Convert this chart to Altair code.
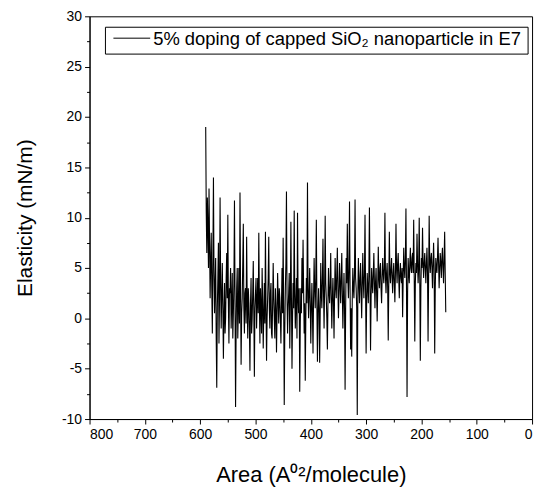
import altair as alt
import pandas as pd

# Area (A^2/molecule): one reading per unit of area, 590 down to 156
area = list(range(590, 155, -1))

# Elasticity (mN/m), in the same order as area
elasticity = [
    19.0, 10.5, 6.5, 12.0, 9.0, 5.0, 12.9, 7.5, 2.0, 5.5,
    8.5, 3.0, -1.5, 6.0, 14.0, 4.5, 0.5, 3.5, 6.0, -2.0,
    -6.9, 1.0, 4.0, 7.5, -2.5, 2.0, 12.0, 3.5, -1.0, 2.5,
    5.5, 1.0, -4.0, 0.5, 3.5, -1.5, 0.0, 4.0, 6.5, 2.0,
    10.3, 1.5, -2.5, 3.0, 2.5, 5.0, -1.0, 1.5, 4.5, -2.0,
    0.5, 3.5, 11.7, 2.0, -8.8, -1.0, 3.0, 5.0, -2.0, 1.0,
    5.0, -0.5, 12.5, 3.0, -4.6, 0.5, 2.0, 5.5, 9.4, 1.0,
    -1.5, 2.5, 3.0, -0.5, 8.1, 2.0, -2.0, 3.0, 1.5, -1.0,
    -5.2, 1.5, 4.0, -1.5, 0.0, 2.5, 5.7, 0.5, -5.8, 1.0,
    2.5, 4.0, -1.0, 1.5, 4.0, 0.5, 8.5, 2.0, -2.5, 3.0,
    1.0, -1.5, 5.0, 1.5, -3.0, 0.5, 3.5, -0.5, 8.6, 1.5,
    -4.2, 0.0, 2.0, 4.0, 8.1, 1.0, -1.0, 2.5, 3.5, -1.5,
    -2.0, 1.5, 5.5, 2.0, 0.0, -2.0, 3.0, 1.0, -3.4, 0.5,
    4.5, 2.0, -0.5, 3.0, 2.0, 0.0, -2.5, 1.5, 5.0, 0.5,
    8.0, 1.0, -8.6, -1.0, 3.0, 5.5, 12.6, 2.5, -1.5, 1.0,
    2.5, 4.5, -3.0, 1.5, 9.6, 2.0, -5.0, 0.0, 3.5, 1.0,
    10.7, 2.5, -1.0, 1.5, 4.0, -2.0, 10.5, 2.0, 0.5, 3.0,
    -7.3, -0.5, 3.0, 0.5, 6.0, 2.5, 7.8, 3.0, -1.5, 1.5,
    -6.2, 0.0, 4.0, 1.5, 13.5, 3.0, 0.0, 2.5, 5.0, 1.5,
    -2.5, 1.0, 3.5, 0.5, -3.5, 2.0, 6.0, 3.0, 1.0, 4.0,
    9.8, 1.5, -4.3, 0.5, 3.0, 1.0, -4.4, 0.5, 5.5, 2.5,
    1.0, 4.0, 7.9, 2.5, -1.0, 3.0, 10.2, 3.5, 2.0, 0.0,
    -3.1, 1.5, 5.0, 2.5, 1.5, 3.5, 6.5, 2.0, -1.0, 2.0,
    4.0, 1.5, -2.0, 2.5, 6.0, 3.0, 2.0, 4.5, 7.0, 3.0,
    0.0, 2.5, 5.5, 3.5, 1.5, 4.0, 6.5, 2.5, -1.0, 2.0,
    4.5, 1.0, -7.1, 1.0, 6.0, 3.5, 9.4, 4.0, 2.0, 5.0,
    11.6, 3.0, -3.1, 1.0, -3.8, 2.0, 5.0, 3.0, 2.0, 4.5,
    11.8, 4.0, 3.0, 1.0, -9.6, 2.0, 6.0, 3.5, 1.5, 4.0,
    5.5, 2.5, 0.0, 3.5, 6.5, 3.5, 2.0, 4.5, 10.3, 3.0,
    -3.5, 2.0, 4.5, 3.0, 1.5, 4.5, 11.0, 3.5, -3.2, 2.0,
    5.0, 3.5, 2.5, 4.5, 6.5, 3.5, 1.0, 3.5, 5.0, 2.5,
    -0.3, 3.0, 7.1, 4.0, 3.0, 5.0, 5.5, 3.0, 1.5, 4.0,
    6.0, 4.5, 3.5, 5.0, 10.5, 4.0, 2.5, 4.5, 5.5, 3.0,
    -2.2, 3.5, 8.6, 4.5, 3.5, 5.0, 6.0, 4.0, 2.5, 4.5,
    5.5, 3.5, 1.6, 4.5, 9.4, 5.0, 3.5, 5.5, 6.5, 4.0,
    2.0, 4.5, 5.5, 4.0, 3.5, 5.0, 0.1, 4.0, 7.0, 5.0,
    4.0, 6.0, 10.9, 3.0, -7.8, 2.5, 6.0, 4.5, 3.5, 5.5,
    7.0, 5.0, 4.5, 6.0, 6.5, 4.5, 9.8, 4.0, -2.3, 3.5,
    5.5, 4.5, 8.4, 5.5, 3.5, 5.0, 10.0, 4.0, -4.2, 3.0,
    6.0, 5.0, 9.0, 5.5, 4.0, 5.5, 6.5, 5.0, 3.5, 5.5,
    7.0, 4.5, -2.3, 4.0, 10.2, 5.5, 4.5, 6.0, 6.5, 5.0,
    3.0, 5.5, 7.5, 5.0, -3.5, 3.0, 6.0, 5.0, 4.5, 6.0,
    8.0, 5.5, 3.0, 5.0, 6.5, 5.5, 4.0, 6.0, 7.0, 5.0,
    3.5, 6.0, 8.6, 4.5, 0.6,
]
assert len(area) == len(elasticity)

series_name = "5% doping of capped SiO\u2082 nanoparticle in E7"

x_ticks = list(range(0, 801, 50))
y_ticks = [-10 + 2.5 * i for i in range(17)]

df = pd.DataFrame({"area": area, "elasticity": elasticity})
legend_df = pd.DataFrame({"label": [series_name]})

FONT = "Liberation Sans"
W, H = 445, 405

line = alt.Chart(df).mark_line(color="black", strokeWidth=1.1).encode(
    x=alt.X(
        "area:Q",
        scale=alt.Scale(domain=[0, 800], reverse=True, nice=False, zero=False),
        axis=alt.Axis(
            title="Area (A\u2070\u00b2/molecule)",
            values=x_ticks,
            labelExpr="datum.value % 100 === 0 ? '' + datum.value : ''",
            labelOverlap=False,
            tickSize={"condition": {"test": "datum.value % 100 !== 0", "value": 3}, "value": 5},
            grid=False,
            domainColor="black",
            tickColor="black",
            labelColor="black",
            labelFont=FONT,
            labelFontSize=14,
            labelPadding=4,
            titleFont=FONT,
            titleFontSize=22,
            titleFontWeight="normal",
            titleColor="black",
            titlePadding=23,
        ),
    ),
    y=alt.Y(
        "elasticity:Q",
        scale=alt.Scale(domain=[-10, 30], nice=False, zero=False),
        axis=alt.Axis(
            title="Elasticity (mN/m)",
            values=y_ticks,
            labelExpr="datum.value % 5 === 0 ? '' + datum.value : ''",
            labelOverlap=False,
            tickSize={"condition": {"test": "datum.value % 5 !== 0", "value": 3}, "value": 5},
            grid=False,
            domainColor="black",
            tickColor="black",
            labelColor="black",
            labelFont=FONT,
            labelFontSize=14,
            labelPadding=3,
            titleFont=FONT,
            titleFontSize=21,
            titleFontWeight="normal",
            titleColor="black",
            titlePadding=26,
        ),
    ),
)

legend_box = alt.Chart(legend_df).mark_rect(
    fill="white", stroke="black", strokeWidth=1
).encode(
    x=alt.value(16), x2=alt.value(W - 4), y=alt.value(11), y2=alt.value(38)
)

legend_line = alt.Chart(legend_df).mark_rule(color="black", strokeWidth=1).encode(
    x=alt.value(24), x2=alt.value(61), y=alt.value(22)
)

legend_text = alt.Chart(legend_df).mark_text(
    align="left", baseline="middle", font=FONT, fontSize=18.5, color="black"
).encode(
    x=alt.value(64), y=alt.value(23), text="label:N"
)

chart = alt.layer(line, legend_box, legend_line, legend_text).properties(
    width=W,
    height=H,
    autosize=alt.AutoSizeParams(type="none"),
    padding={"left": 82, "top": 7, "right": 10, "bottom": 70},
).configure_view(stroke="black", strokeWidth=1)

chart.save("out.html", embed_options={"renderer": "svg", "actions": False})
